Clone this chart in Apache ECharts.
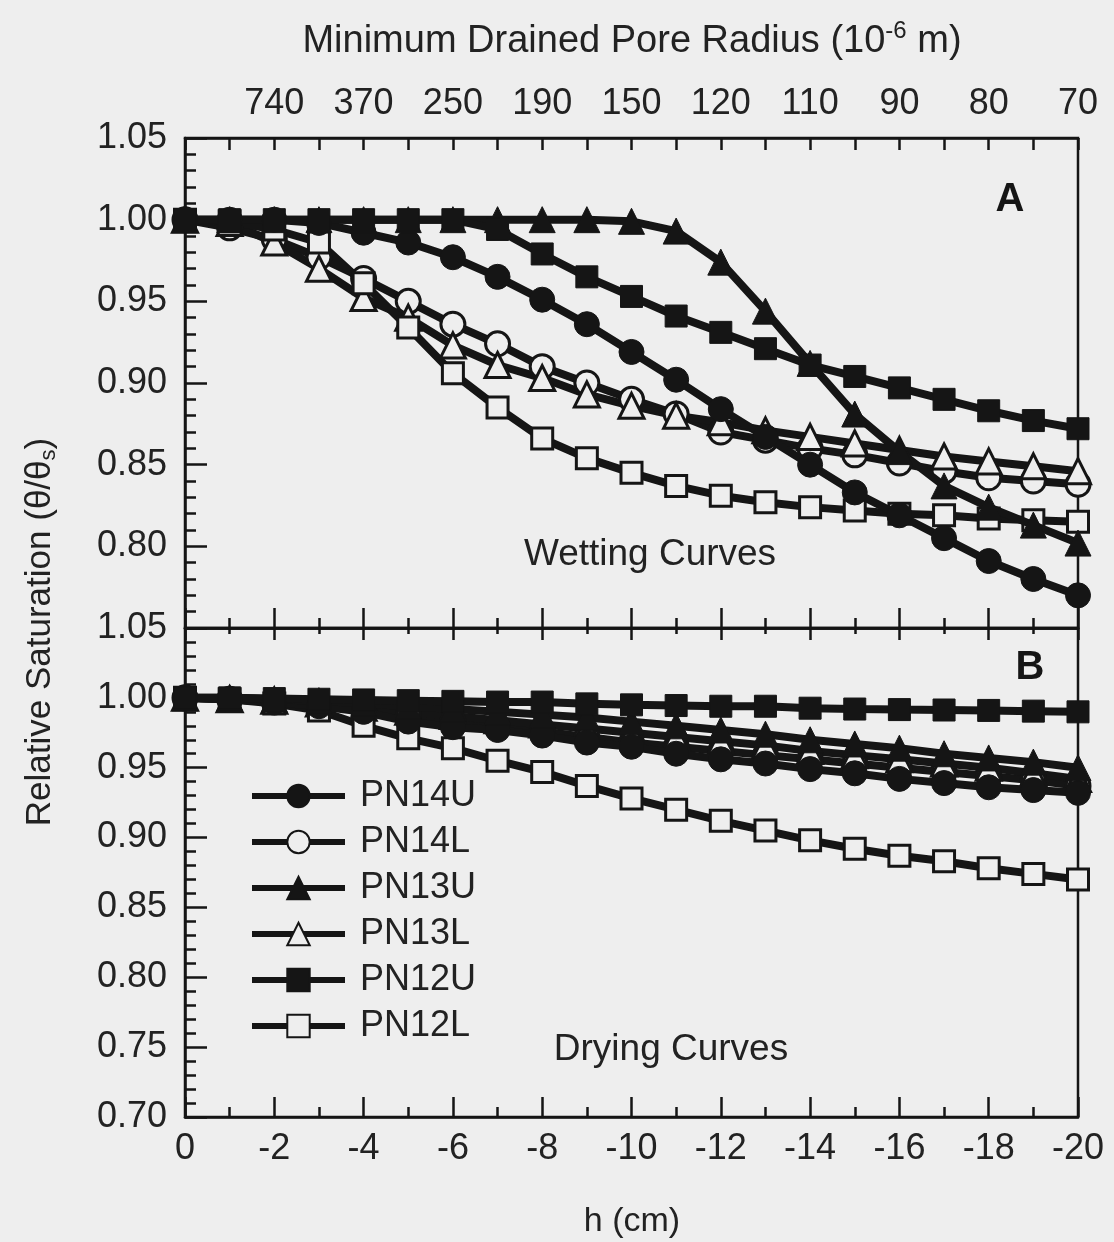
<!DOCTYPE html>
<html>
<head>
<meta charset="utf-8">
<script src="https://cdn.jsdelivr.net/npm/echarts@6/dist/echarts.min.js"></script>
<style>
html,body{margin:0;padding:0;background:#eeeeee;}
#chart{width:1114px;height:1242px;}
</style>
</head>
<body>
<div id="chart"></div>
<script>
// ---- data ----
const hValues = [0,-1,-2,-3,-4,-5,-6,-7,-8,-9,-10,-11,-12,-13,-14,-15,-16,-17,-18,-19,-20];
const seriesNames = ['PN14U','PN14L','PN13U','PN13L','PN12U','PN12L'];

// Wetting curves (panel A)
const wetPN14U = [1.000,1.000,1.000,0.998,0.992,0.986,0.977,0.965,0.951,0.936,0.919,0.902,0.884,0.867,0.850,0.833,0.819,0.805,0.791,0.780,0.770];
const wetPN14L = [1.000,0.995,0.988,0.977,0.964,0.950,0.936,0.924,0.910,0.900,0.890,0.881,0.870,0.865,0.860,0.856,0.851,0.846,0.842,0.840,0.838];
const wetPN13U = [1.000,1.000,1.000,1.000,1.000,1.000,1.000,1.000,1.000,1.000,0.999,0.993,0.974,0.944,0.912,0.881,0.858,0.837,0.824,0.813,0.802];
const wetPN13L = [1.000,0.998,0.986,0.970,0.952,0.940,0.923,0.911,0.903,0.893,0.886,0.880,0.876,0.871,0.867,0.863,0.859,0.855,0.852,0.849,0.846];
const wetPN12U = [1.000,1.000,1.000,1.000,1.000,1.000,1.000,0.994,0.979,0.965,0.953,0.941,0.931,0.921,0.911,0.904,0.897,0.890,0.883,0.877,0.872];
const wetPN12L = [1.000,0.999,0.994,0.986,0.961,0.934,0.906,0.885,0.866,0.854,0.845,0.837,0.831,0.827,0.824,0.822,0.820,0.819,0.817,0.816,0.815];

// Drying curves (panel B)
const dryPN14U = [1.000,0.999,0.997,0.994,0.990,0.983,0.979,0.977,0.973,0.968,0.965,0.960,0.956,0.953,0.949,0.946,0.942,0.939,0.936,0.934,0.932];
const dryPN14L = [1.000,0.999,0.997,0.995,0.991,0.987,0.983,0.979,0.976,0.972,0.968,0.965,0.962,0.959,0.956,0.953,0.950,0.947,0.944,0.941,0.937];
const dryPN13U = [1.000,1.000,0.999,0.998,0.996,0.994,0.992,0.990,0.988,0.986,0.983,0.980,0.977,0.974,0.970,0.967,0.964,0.960,0.957,0.954,0.950];
const dryPN13L = [1.000,0.999,0.998,0.996,0.993,0.990,0.987,0.984,0.981,0.978,0.975,0.972,0.969,0.966,0.962,0.959,0.956,0.953,0.950,0.946,0.942];
const dryPN12U = [1.000,1.000,0.9995,0.999,0.9985,0.998,0.9975,0.997,0.997,0.9957,0.995,0.9945,0.994,0.994,0.9926,0.992,0.9916,0.9913,0.991,0.9905,0.990];
const dryPN12L = [1.000,0.999,0.996,0.991,0.980,0.971,0.964,0.955,0.947,0.937,0.928,0.920,0.912,0.905,0.898,0.892,0.887,0.883,0.878,0.874,0.870];

// tick labels
const hTickValues = [0,-2,-4,-6,-8,-10,-12,-14,-16,-18,-20];
const hTickLabels = ['0','-2','-4','-6','-8','-10','-12','-14','-16','-18','-20'];
const radiusTickValues = [-2,-4,-6,-8,-10,-12,-14,-16,-18,-20];
const radiusTickLabels = ['740','370','250','190','150','120','110','90','80','70'];

// ---- chart ----
const INK = '#151515';
const BG = '#eeeeee';
const FONT = '"Liberation Sans", Arial, sans-serif';

const wetData = {PN14U: wetPN14U, PN14L: wetPN14L, PN13U: wetPN13U, PN13L: wetPN13L, PN12U: wetPN12U, PN12L: wetPN12L};
const dryData = {PN14U: dryPN14U, PN14L: dryPN14L, PN13U: dryPN13U, PN13L: dryPN13L, PN12U: dryPN12U, PN12L: dryPN12L};
const markerStyle = {
  PN14U: {symbol: 'circle', size: 25, filled: true},
  PN14L: {symbol: 'circle', size: 24, filled: false},
  PN13U: {symbol: 'triangle', size: 26, filled: true},
  PN13L: {symbol: 'triangle', size: 25, filled: false},
  PN12U: {symbol: 'rect', size: 22, filled: true},
  PN12L: {symbol: 'rect', size: 21, filled: false}
};

function makeSeries(name, vals, xi, yi) {
  const m = markerStyle[name];
  return {
    name: name, type: 'line', xAxisIndex: xi, yAxisIndex: yi,
    data: hValues.map((h, i) => [h, vals[i]]),
    symbol: m.symbol, symbolSize: m.size, showAllSymbol: true,
    clip: false, smooth: false,
    lineStyle: {color: INK, width: 8},
    itemStyle: m.filled ? {color: INK, borderColor: INK, borderWidth: 1}
                        : {color: BG, borderColor: INK, borderWidth: 3},
    z: m.filled ? 3 : 2
  };
}

const series = [];
seriesNames.forEach(n => series.push(makeSeries(n, wetData[n], 0, 0)));
seriesNames.forEach(n => series.push(makeSeries(n, dryData[n], 2, 1)));

const axLine = {show: true, lineStyle: {color: INK, width: 2.5}};
const baseX = {
  type: 'value', min: -20, max: 0, inverse: true,
  axisLine: axLine, splitLine: {show: false}
};

const option = {
  backgroundColor: BG,
  animation: false,
  textStyle: {fontFamily: FONT, color: '#222'},
  grid: [
    {left: 185, top: 138, width: 893, height: 490, show: true, borderColor: INK, borderWidth: 2.5, backgroundColor: 'transparent'},
    {left: 185, top: 628, width: 893, height: 489, show: true, borderColor: INK, borderWidth: 2.5, backgroundColor: 'transparent'}
  ],
  xAxis: [
    Object.assign({}, baseX, {gridIndex: 0, position: 'bottom', interval: 2,
      axisTick: {inside: true, length: 20, lineStyle: {color: INK, width: 2.5}},
      minorTick: {show: true, splitNumber: 2, length: 10, lineStyle: {color: INK, width: 2.5}},
      axisLabel: {show: false}}),
    Object.assign({}, baseX, {gridIndex: 0, position: 'top', interval: 1,
      axisTick: {inside: true, length: 12, lineStyle: {color: INK, width: 2.5}},
      axisLabel: {show: true, fontSize: 36, margin: 16, color: '#222', fontFamily: FONT,
        formatter: v => { const i = radiusTickValues.indexOf(v); return i >= 0 ? radiusTickLabels[i] : ''; }}}),
    Object.assign({}, baseX, {gridIndex: 1, position: 'bottom', interval: 2,
      axisTick: {inside: true, length: 20, lineStyle: {color: INK, width: 2.5}},
      minorTick: {show: true, splitNumber: 2, length: 10, lineStyle: {color: INK, width: 2.5}},
      axisLabel: {show: true, fontSize: 36, margin: 14, color: '#222', fontFamily: FONT,
        formatter: v => { const i = hTickValues.indexOf(v); return i >= 0 ? hTickLabels[i] : ''; }}}),
    Object.assign({}, baseX, {gridIndex: 1, position: 'top', interval: 2,
      axisTick: {inside: true, length: 12, lineStyle: {color: INK, width: 2.5}},
      minorTick: {show: true, splitNumber: 2, length: 6, lineStyle: {color: INK, width: 2.5}},
      axisLabel: {show: false}})
  ],
  yAxis: [
    {gridIndex: 0, type: 'value', min: 0.75, max: 1.05, interval: 0.05,
      axisLine: axLine, splitLine: {show: false},
      axisTick: {inside: true, length: 22, lineStyle: {color: INK, width: 2.5}},
      minorTick: {show: true, splitNumber: 5, length: 11, lineStyle: {color: INK, width: 2.5}},
      axisLabel: {fontSize: 36, margin: 18, color: '#222', fontFamily: FONT, showMinLabel: false,
        formatter: v => v.toFixed(2)}},
    {gridIndex: 1, type: 'value', min: 0.70, max: 1.05, interval: 0.05,
      axisLine: axLine, splitLine: {show: false},
      axisTick: {inside: true, length: 22, lineStyle: {color: INK, width: 2.5}},
      minorTick: {show: true, splitNumber: 5, length: 11, lineStyle: {color: INK, width: 2.5}},
      axisLabel: {fontSize: 36, margin: 18, color: '#222', fontFamily: FONT,
        formatter: v => v.toFixed(2)}}
  ],
  legend: {
    data: seriesNames, orient: 'vertical', left: 244, top: 773,
    itemWidth: 93, itemHeight: 28, itemGap: 10, selectedMode: false,
    lineStyle: {width: 6},
    textStyle: {fontSize: 36, lineHeight: 36, color: '#222', fontFamily: FONT, padding: [0, 0, 0, 10]}
  },
  graphic: [
    {type: 'text', x: 632, y: 42, style: {text: 'Minimum Drained Pore Radius (10{sup|-6} m)',
      font: '38px ' + FONT, fill: '#222', align: 'center', verticalAlign: 'middle', lineHeight: 46,
      rich: {sup: {fontSize: 24, lineHeight: 24, verticalAlign: 'top', fontFamily: FONT, fill: '#222'}}}},
    {type: 'text', x: 40, y: 632, rotation: Math.PI / 2, style: {text: 'Relative Saturation (θ/θ{sub|s})',
      font: '35px ' + FONT, fill: '#222', align: 'center', verticalAlign: 'middle', lineHeight: 40,
      rich: {sub: {fontSize: 22, lineHeight: 22, verticalAlign: 'bottom', fontFamily: FONT, fill: '#222'}}}},
    {type: 'text', x: 632, y: 1222, style: {text: 'h (cm)', font: '34px ' + FONT, fill: '#222', align: 'center', verticalAlign: 'middle'}},
    {type: 'text', x: 1010, y: 200, style: {text: 'A', font: 'bold 40px ' + FONT, fill: '#151515', align: 'center', verticalAlign: 'middle'}},
    {type: 'text', x: 1030, y: 668, style: {text: 'B', font: 'bold 40px ' + FONT, fill: '#151515', align: 'center', verticalAlign: 'middle'}},
    {type: 'text', x: 650, y: 555, style: {text: 'Wetting Curves', font: '37px ' + FONT, fill: '#222', align: 'center', verticalAlign: 'middle'}},
    {type: 'text', x: 671, y: 1050, style: {text: 'Drying Curves', font: '37px ' + FONT, fill: '#222', align: 'center', verticalAlign: 'middle'}}
  ],
  series: series
};

const chart = echarts.init(document.getElementById('chart'), null, {renderer: 'canvas'});
chart.setOption(option);
</script>
</body>
</html>
